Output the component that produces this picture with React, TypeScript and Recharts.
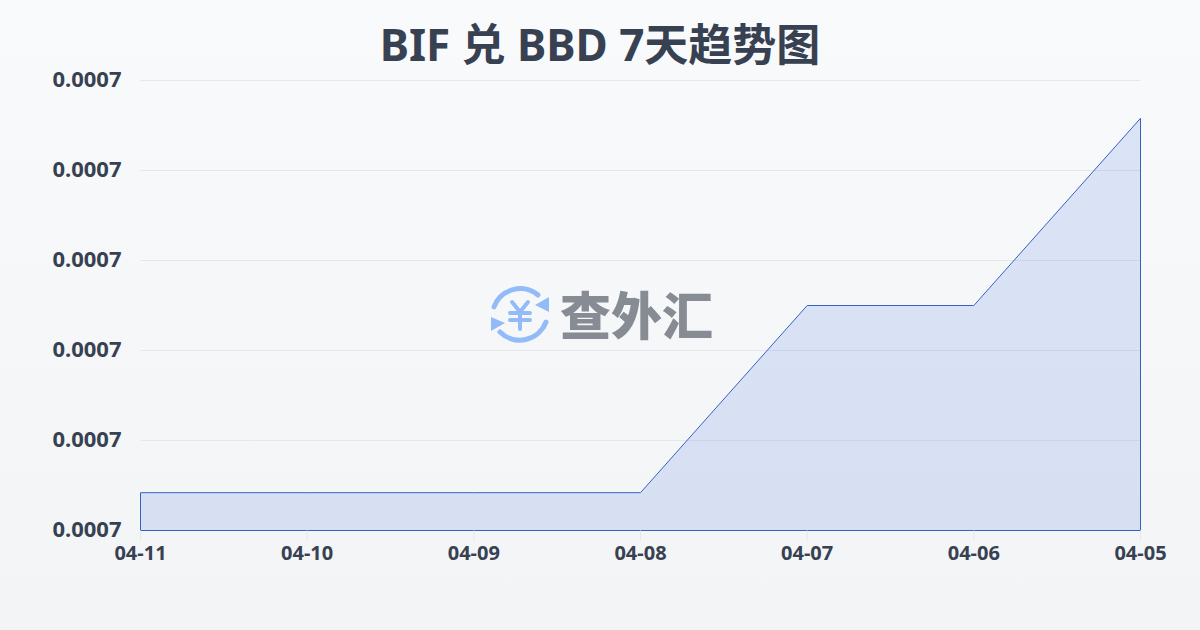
import React from 'react';
import {
  AreaChart,
  Area,
  XAxis,
  YAxis,
  CartesianGrid,
  ReferenceLine,
} from 'recharts';

const dates = ['04-11', '04-10', '04-09', '04-08', '04-07', '04-06', '04-05'];
const rates = [0.00070084, 0.00070084, 0.00070084, 0.00070084, 0.000705, 0.000705, 0.00070916];
const yTicks = [0.0007, 0.000702, 0.000704, 0.000706, 0.000708, 0.00071];

const data = dates.map((date, i) => ({ date, rate: rates[i] }));

const FONT = '"Noto Sans", "Noto Sans CJK SC", sans-serif';
const INK = '#374151';
const LINE = '#3562c2';
const yMin = yTicks[0];

const Watermark = () => (
  <div style={{ position: 'absolute', left: 488, top: 284, width: 230, height: 62 }}>
    <svg width={64} height={62} viewBox="0 0 64 62" style={{ position: 'absolute', left: 0, top: 0 }}>
      <g fill="none" stroke="#93bbf8" strokeLinecap="round" strokeLinejoin="round">
        <path d="M6 23 A 28 28 0 0 1 50 11" strokeWidth={5} />
        <path d="M58 38 A 28 28 0 0 1 12 48" strokeWidth={5} />
        <path d="M24 18 L32 28 L40 18 M32 28 V45 M22 29 H42 M22 36 H42" strokeWidth={4} />
      </g>
      <path d="M61 13 V28 L47 21 Z" fill="#93bbf8" />
      <path d="M3 33 V47 L17 39 Z" fill="#93bbf8" />
    </svg>
    <div
      style={{
        position: 'absolute',
        left: 72,
        top: -7,
        fontFamily: '"Noto Sans CJK SC", sans-serif',
        fontWeight: 900,
        fontSize: 51,
        lineHeight: '72px',
        color: '#878b93',
        whiteSpace: 'nowrap',
      }}
    >
      查外汇
    </div>
  </div>
);

export default function App() {
  return (
    <div
      style={{
        position: 'absolute',
        left: 0,
        top: 0,
        width: 1200,
        height: 630,
        overflow: 'hidden',
        background: 'linear-gradient(180deg, #f9fafc 0%, #f3f4f6 100%)',
        fontFamily: FONT,
      }}
    >
      <div
        style={{
          position: 'absolute',
          left: 0,
          top: 14,
          width: 1200,
          textAlign: 'center',
          fontSize: 44,
          lineHeight: '60px',
          fontWeight: 700,
          color: INK,
        }}
      >
        BIF 兑 BBD 7天趋势图
      </div>
      <AreaChart
        width={1200}
        height={630}
        data={data}
        margin={{ top: 80.5, right: 59.5, left: 0, bottom: 0 }}
      >
        <CartesianGrid vertical={false} stroke="#e5e7eb" />
        <XAxis
          dataKey="date"
          scale="point"
          interval={0}
          axisLine={false}
          height={99.5}
          tickSize={10}
          tickMargin={5}
          tickLine={{ stroke: '#e9e8e4' }}
          tick={{ fill: INK, fontSize: 20, fontWeight: 700, fontFamily: FONT }}
        />
        <YAxis
          width={140.5}
          domain={[yTicks[0], yTicks[yTicks.length - 1]]}
          ticks={yTicks}
          axisLine={false}
          tickLine={false}
          tickMargin={13}
          tickFormatter={(v: number) => v.toFixed(4)}
          tick={{ fill: INK, fontSize: 22, fontWeight: 700, fontFamily: FONT, dy: -1 }}
        />
        <Area
          type="linear"
          dataKey="rate"
          stroke={LINE}
          strokeWidth={1}
          fill="#3366dd"
          fillOpacity={0.15}
          isAnimationActive={false}
          dot={false}
          activeDot={false}
        />
        <ReferenceLine y={yMin} stroke={LINE} strokeWidth={1} />
        <ReferenceLine
          segment={[{ x: dates[0], y: yMin }, { x: dates[0], y: rates[0] }]}
          stroke={LINE}
          strokeWidth={1}
        />
        <ReferenceLine
          segment={[{ x: dates[6], y: yMin }, { x: dates[6], y: rates[6] }]}
          stroke={LINE}
          strokeWidth={1}
        />
      </AreaChart>
      <Watermark />
    </div>
  );
}
